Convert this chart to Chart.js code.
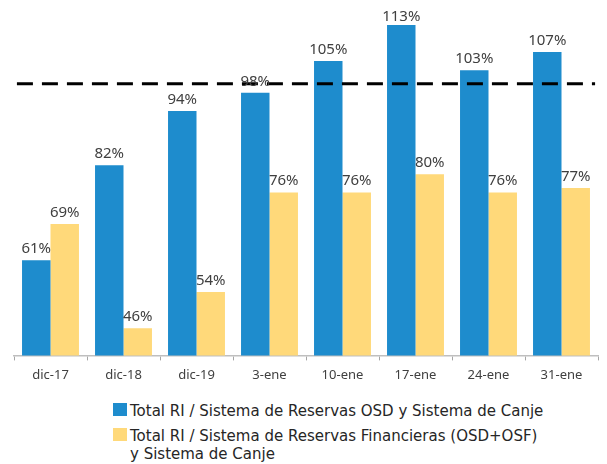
<!DOCTYPE html>
<html>
<head>
<meta charset="utf-8">
<script src="https://cdn.jsdelivr.net/npm/chart.js@4"></script>
<style>
    body { margin: 0; background: #fff; font-family: "DejaVu Sans", sans-serif; }
    #wrap { position: relative; width: 607px; height: 390px; }
    #legend { position: absolute; left: 113px; top: 402px; font-size: 15px; color: #262626; line-height: 18px; }
    .item { position: relative; padding-left: 17px; margin-bottom: 7px; white-space: nowrap; }
    .sw { position: absolute; left: 0; top: 1px; width: 14px; height: 13px; }
</style>
</head>
<body>
<div id="wrap"><canvas id="chart"></canvas></div>
<div id="legend">
    <div class="item"><span class="sw" style="background:#1e8ccd"></span>Total RI / Sistema de Reservas OSD y Sistema de Canje</div>
    <div class="item"><span class="sw" style="background:#ffd97a"></span>Total RI / Sistema de Reservas Financieras (OSD+OSF)<br>y Sistema de Canje</div>
</div>
<script>
const categories = ['dic-17', 'dic-18', 'dic-19', '3-ene', '10-ene', '17-ene', '24-ene', '31-ene'];
const reservasOSD = [61, 82, 94, 98, 105, 113, 103, 107];
const reservasFinancieras = [69, 46, 54, 76, 76, 80, 76, 77];
const referencia = 100;
// extremos de la línea punteada, en índices de categoría
const referenciaDesde = -0.46;
const referenciaHasta = 7.46;

// etiquetas de valor encima de cada barra y línea de referencia punteada
const extras = {
    id: 'extras',
    afterDatasetsDraw(chart) {
        const ctx = chart.ctx;
        const x = chart.scales.x;
        const y = chart.scales.y;
        ctx.save();
        ctx.beginPath();
        ctx.setLineDash([16, 9]);
        ctx.lineWidth = 3;
        ctx.strokeStyle = '#000000';
        ctx.moveTo(x.getPixelForValue(referenciaDesde), y.getPixelForValue(referencia));
        ctx.lineTo(x.getPixelForValue(referenciaHasta), y.getPixelForValue(referencia));
        ctx.stroke();
        ctx.setLineDash([]);

        ctx.font = '15px "Noto Sans", sans-serif';
        ctx.fillStyle = '#404040';
        ctx.textAlign = 'center';
        ctx.textBaseline = 'alphabetic';
        [0, 1].forEach(function (i) {
            const meta = chart.getDatasetMeta(i);
            meta.data.forEach(function (bar, j) {
                const ty = Math.max(bar.y - 7, 21);
                ctx.fillText(chart.data.datasets[i].data[j] + '%', bar.x, ty);
            });
        });
        ctx.restore();
    }
};

const ctx = document.getElementById('chart').getContext('2d');
const chart = new Chart(ctx, {
    type: 'bar',
    data: {
        labels: categories,
        datasets: [{
            label: 'Total RI / Sistema de Reservas OSD y Sistema de Canje',
            data: reservasOSD,
            backgroundColor: '#1e8ccd'
        }, {
            label: 'Total RI / Sistema de Reservas Financieras (OSD+OSF) y Sistema de Canje',
            data: reservasFinancieras,
            backgroundColor: '#ffd97a'
        }]
    },
    options: {
        responsive: true,
        maintainAspectRatio: false,
        animation: false,
        categoryPercentage: 0.78,
        barPercentage: 1.0,
        layout: { padding: { left: 14, right: 9, top: 0, bottom: 0 } },
        plugins: {
            legend: { display: false },
            tooltip: { enabled: false }
        },
        scales: {
            x: {
                offset: true,
                grid: {
                    display: true,
                    drawOnChartArea: false,
                    drawTicks: true,
                    tickLength: 5,
                    color: '#a6a6a6',
                    offset: true
                },
                border: { display: true, color: '#bfbfbf', width: 1.5 },
                ticks: {
                    color: '#404040',
                    font: { size: 13, family: '"Noto Sans", sans-serif' },
                    padding: 7
                }
            },
            y: {
                min: 40,
                max: 118.5,
                display: false
            }
        }
    },
    plugins: [extras]
});
</script>
</body>
</html>
